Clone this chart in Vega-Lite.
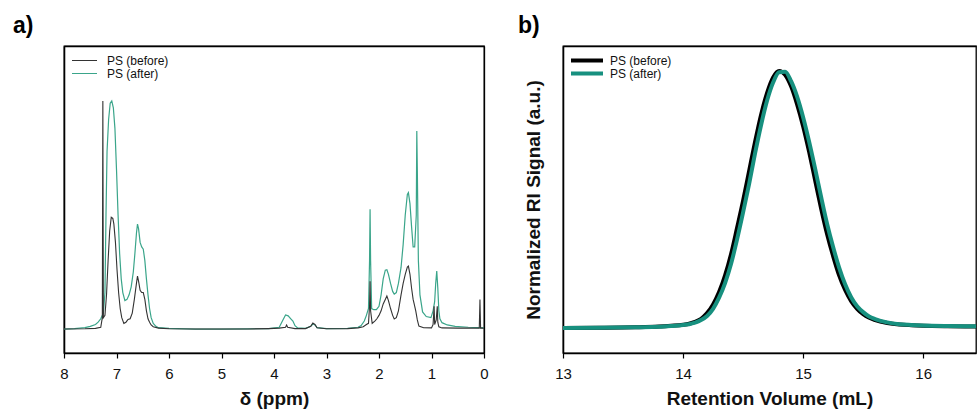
{
  "$schema": "https://vega.github.io/schema/vega-lite/v6.json",
  "padding": {"left": 12, "top": 14, "right": 2, "bottom": 0},
  "spacing": 28,
  "config": {
    "font": "Liberation Sans",
    "view": {"stroke": "#000", "strokeWidth": 1.3},
    "axis": {"domainColor": "#000", "domainWidth": 1.3, "tickColor": "#000", "tickWidth": 1.2, "labelColor": "#111", "labelFontSize": 15, "titleFontWeight": "bold", "titleFontSize": 19, "titleColor": "#111", "labelFlush": false}
  },
  "datasets": {
    "nmr": [
      {"ppm": 8.0, "intensity": 0.0, "series": "PS (after)"},
      {"ppm": 7.8, "intensity": 0.002, "series": "PS (after)"},
      {"ppm": 7.6, "intensity": 0.006, "series": "PS (after)"},
      {"ppm": 7.5, "intensity": 0.012, "series": "PS (after)"},
      {"ppm": 7.4, "intensity": 0.02, "series": "PS (after)"},
      {"ppm": 7.35, "intensity": 0.03, "series": "PS (after)"},
      {"ppm": 7.3, "intensity": 0.045, "series": "PS (after)"},
      {"ppm": 7.25, "intensity": 0.07, "series": "PS (after)"},
      {"ppm": 7.22, "intensity": 0.16, "series": "PS (after)"},
      {"ppm": 7.2, "intensity": 0.5, "series": "PS (after)"},
      {"ppm": 7.18, "intensity": 0.78, "series": "PS (after)"},
      {"ppm": 7.15, "intensity": 0.92, "series": "PS (after)"},
      {"ppm": 7.12, "intensity": 0.99, "series": "PS (after)"},
      {"ppm": 7.09, "intensity": 1.0, "series": "PS (after)"},
      {"ppm": 7.06, "intensity": 0.97, "series": "PS (after)"},
      {"ppm": 7.03, "intensity": 0.88, "series": "PS (after)"},
      {"ppm": 7.0, "intensity": 0.7, "series": "PS (after)"},
      {"ppm": 6.97, "intensity": 0.5, "series": "PS (after)"},
      {"ppm": 6.94, "intensity": 0.33, "series": "PS (after)"},
      {"ppm": 6.91, "intensity": 0.22, "series": "PS (after)"},
      {"ppm": 6.88, "intensity": 0.16, "series": "PS (after)"},
      {"ppm": 6.84, "intensity": 0.125, "series": "PS (after)"},
      {"ppm": 6.8, "intensity": 0.13, "series": "PS (after)"},
      {"ppm": 6.76, "intensity": 0.15, "series": "PS (after)"},
      {"ppm": 6.72, "intensity": 0.185, "series": "PS (after)"},
      {"ppm": 6.68, "intensity": 0.25, "series": "PS (after)"},
      {"ppm": 6.65, "intensity": 0.33, "series": "PS (after)"},
      {"ppm": 6.62, "intensity": 0.42, "series": "PS (after)"},
      {"ppm": 6.6, "intensity": 0.46, "series": "PS (after)"},
      {"ppm": 6.58, "intensity": 0.44, "series": "PS (after)"},
      {"ppm": 6.55, "intensity": 0.38, "series": "PS (after)"},
      {"ppm": 6.52, "intensity": 0.36, "series": "PS (after)"},
      {"ppm": 6.49, "intensity": 0.35, "series": "PS (after)"},
      {"ppm": 6.46, "intensity": 0.3, "series": "PS (after)"},
      {"ppm": 6.43, "intensity": 0.22, "series": "PS (after)"},
      {"ppm": 6.4, "intensity": 0.15, "series": "PS (after)"},
      {"ppm": 6.37, "intensity": 0.09, "series": "PS (after)"},
      {"ppm": 6.34, "intensity": 0.05, "series": "PS (after)"},
      {"ppm": 6.3, "intensity": 0.025, "series": "PS (after)"},
      {"ppm": 6.25, "intensity": 0.012, "series": "PS (after)"},
      {"ppm": 6.2, "intensity": 0.006, "series": "PS (after)"},
      {"ppm": 6.0, "intensity": 0.003, "series": "PS (after)"},
      {"ppm": 5.5, "intensity": 0.0, "series": "PS (after)"},
      {"ppm": 5.0, "intensity": 0.0, "series": "PS (after)"},
      {"ppm": 4.5, "intensity": 0.001, "series": "PS (after)"},
      {"ppm": 4.1, "intensity": 0.002, "series": "PS (after)"},
      {"ppm": 3.9, "intensity": 0.008, "series": "PS (after)"},
      {"ppm": 3.83, "intensity": 0.04, "series": "PS (after)"},
      {"ppm": 3.78, "intensity": 0.062, "series": "PS (after)"},
      {"ppm": 3.73, "intensity": 0.058, "series": "PS (after)"},
      {"ppm": 3.68, "intensity": 0.045, "series": "PS (after)"},
      {"ppm": 3.64, "intensity": 0.035, "series": "PS (after)"},
      {"ppm": 3.6, "intensity": 0.015, "series": "PS (after)"},
      {"ppm": 3.55, "intensity": 0.005, "series": "PS (after)"},
      {"ppm": 3.4, "intensity": 0.003, "series": "PS (after)"},
      {"ppm": 3.3, "intensity": 0.012, "series": "PS (after)"},
      {"ppm": 3.26, "intensity": 0.022, "series": "PS (after)"},
      {"ppm": 3.22, "intensity": 0.018, "series": "PS (after)"},
      {"ppm": 3.18, "intensity": 0.006, "series": "PS (after)"},
      {"ppm": 3.0, "intensity": 0.002, "series": "PS (after)"},
      {"ppm": 2.6, "intensity": 0.003, "series": "PS (after)"},
      {"ppm": 2.4, "intensity": 0.008, "series": "PS (after)"},
      {"ppm": 2.34, "intensity": 0.015, "series": "PS (after)"},
      {"ppm": 2.28, "intensity": 0.035, "series": "PS (after)"},
      {"ppm": 2.24, "intensity": 0.06, "series": "PS (after)"},
      {"ppm": 2.2, "intensity": 0.09, "series": "PS (after)"},
      {"ppm": 2.18, "intensity": 0.3, "series": "PS (after)"},
      {"ppm": 2.17, "intensity": 0.525, "series": "PS (after)"},
      {"ppm": 2.16, "intensity": 0.3, "series": "PS (after)"},
      {"ppm": 2.14, "intensity": 0.09, "series": "PS (after)"},
      {"ppm": 2.1, "intensity": 0.085, "series": "PS (after)"},
      {"ppm": 2.05, "intensity": 0.085, "series": "PS (after)"},
      {"ppm": 2.0, "intensity": 0.1, "series": "PS (after)"},
      {"ppm": 1.96, "intensity": 0.15, "series": "PS (after)"},
      {"ppm": 1.92, "intensity": 0.22, "series": "PS (after)"},
      {"ppm": 1.88, "intensity": 0.258, "series": "PS (after)"},
      {"ppm": 1.85, "intensity": 0.26, "series": "PS (after)"},
      {"ppm": 1.82, "intensity": 0.24, "series": "PS (after)"},
      {"ppm": 1.78, "intensity": 0.2, "series": "PS (after)"},
      {"ppm": 1.74, "intensity": 0.165, "series": "PS (after)"},
      {"ppm": 1.71, "intensity": 0.153, "series": "PS (after)"},
      {"ppm": 1.67, "intensity": 0.16, "series": "PS (after)"},
      {"ppm": 1.63, "intensity": 0.2, "series": "PS (after)"},
      {"ppm": 1.58, "intensity": 0.27, "series": "PS (after)"},
      {"ppm": 1.54, "intensity": 0.37, "series": "PS (after)"},
      {"ppm": 1.5, "intensity": 0.5, "series": "PS (after)"},
      {"ppm": 1.46, "intensity": 0.59, "series": "PS (after)"},
      {"ppm": 1.44, "intensity": 0.598, "series": "PS (after)"},
      {"ppm": 1.41, "intensity": 0.55, "series": "PS (after)"},
      {"ppm": 1.38, "intensity": 0.45, "series": "PS (after)"},
      {"ppm": 1.35, "intensity": 0.36, "series": "PS (after)"},
      {"ppm": 1.32, "intensity": 0.36, "series": "PS (after)"},
      {"ppm": 1.29, "intensity": 0.5, "series": "PS (after)"},
      {"ppm": 1.28, "intensity": 0.868, "series": "PS (after)"},
      {"ppm": 1.27, "intensity": 0.7, "series": "PS (after)"},
      {"ppm": 1.25, "intensity": 0.3, "series": "PS (after)"},
      {"ppm": 1.22, "intensity": 0.15, "series": "PS (after)"},
      {"ppm": 1.17, "intensity": 0.075, "series": "PS (after)"},
      {"ppm": 1.1, "intensity": 0.055, "series": "PS (after)"},
      {"ppm": 1.01, "intensity": 0.05, "series": "PS (after)"},
      {"ppm": 0.97, "intensity": 0.08, "series": "PS (after)"},
      {"ppm": 0.94, "intensity": 0.12, "series": "PS (after)"},
      {"ppm": 0.92, "intensity": 0.2, "series": "PS (after)"},
      {"ppm": 0.9, "intensity": 0.254, "series": "PS (after)"},
      {"ppm": 0.88, "intensity": 0.18, "series": "PS (after)"},
      {"ppm": 0.86, "intensity": 0.08, "series": "PS (after)"},
      {"ppm": 0.84, "intensity": 0.045, "series": "PS (after)"},
      {"ppm": 0.8, "intensity": 0.028, "series": "PS (after)"},
      {"ppm": 0.7, "intensity": 0.018, "series": "PS (after)"},
      {"ppm": 0.55, "intensity": 0.012, "series": "PS (after)"},
      {"ppm": 0.3, "intensity": 0.008, "series": "PS (after)"},
      {"ppm": 0.1, "intensity": 0.006, "series": "PS (after)"},
      {"ppm": 0.0, "intensity": 0.005, "series": "PS (after)"},
      {"ppm": 8.0, "intensity": 0.0, "series": "PS (before)"},
      {"ppm": 7.6, "intensity": 0.001, "series": "PS (before)"},
      {"ppm": 7.4, "intensity": 0.003, "series": "PS (before)"},
      {"ppm": 7.3, "intensity": 0.008, "series": "PS (before)"},
      {"ppm": 7.27, "intensity": 0.05, "series": "PS (before)"},
      {"ppm": 7.26, "intensity": 1.0, "series": "PS (before)"},
      {"ppm": 7.25, "intensity": 0.05, "series": "PS (before)"},
      {"ppm": 7.22, "intensity": 0.06, "series": "PS (before)"},
      {"ppm": 7.19, "intensity": 0.15, "series": "PS (before)"},
      {"ppm": 7.16, "intensity": 0.3, "series": "PS (before)"},
      {"ppm": 7.13, "intensity": 0.43, "series": "PS (before)"},
      {"ppm": 7.1, "intensity": 0.49, "series": "PS (before)"},
      {"ppm": 7.07, "intensity": 0.485, "series": "PS (before)"},
      {"ppm": 7.05, "intensity": 0.46, "series": "PS (before)"},
      {"ppm": 7.02, "intensity": 0.38, "series": "PS (before)"},
      {"ppm": 6.99, "intensity": 0.26, "series": "PS (before)"},
      {"ppm": 6.96, "intensity": 0.16, "series": "PS (before)"},
      {"ppm": 6.93, "intensity": 0.09, "series": "PS (before)"},
      {"ppm": 6.9, "intensity": 0.05, "series": "PS (before)"},
      {"ppm": 6.86, "intensity": 0.025, "series": "PS (before)"},
      {"ppm": 6.82, "intensity": 0.03, "series": "PS (before)"},
      {"ppm": 6.78, "intensity": 0.042, "series": "PS (before)"},
      {"ppm": 6.74, "intensity": 0.045, "series": "PS (before)"},
      {"ppm": 6.7, "intensity": 0.07, "series": "PS (before)"},
      {"ppm": 6.66, "intensity": 0.13, "series": "PS (before)"},
      {"ppm": 6.62, "intensity": 0.2, "series": "PS (before)"},
      {"ppm": 6.6, "intensity": 0.232, "series": "PS (before)"},
      {"ppm": 6.58, "intensity": 0.21, "series": "PS (before)"},
      {"ppm": 6.55, "intensity": 0.17, "series": "PS (before)"},
      {"ppm": 6.52, "intensity": 0.16, "series": "PS (before)"},
      {"ppm": 6.49, "intensity": 0.16, "series": "PS (before)"},
      {"ppm": 6.46, "intensity": 0.13, "series": "PS (before)"},
      {"ppm": 6.43, "intensity": 0.08, "series": "PS (before)"},
      {"ppm": 6.4, "intensity": 0.045, "series": "PS (before)"},
      {"ppm": 6.37, "intensity": 0.03, "series": "PS (before)"},
      {"ppm": 6.34, "intensity": 0.018, "series": "PS (before)"},
      {"ppm": 6.3, "intensity": 0.01, "series": "PS (before)"},
      {"ppm": 6.2, "intensity": 0.004, "series": "PS (before)"},
      {"ppm": 6.0, "intensity": 0.001, "series": "PS (before)"},
      {"ppm": 5.5, "intensity": 0.0, "series": "PS (before)"},
      {"ppm": 4.5, "intensity": 0.0, "series": "PS (before)"},
      {"ppm": 4.1, "intensity": 0.002, "series": "PS (before)"},
      {"ppm": 3.9, "intensity": 0.004, "series": "PS (before)"},
      {"ppm": 3.78, "intensity": 0.008, "series": "PS (before)"},
      {"ppm": 3.76, "intensity": 0.018, "series": "PS (before)"},
      {"ppm": 3.74, "intensity": 0.008, "series": "PS (before)"},
      {"ppm": 3.6, "intensity": 0.002, "series": "PS (before)"},
      {"ppm": 3.4, "intensity": 0.002, "series": "PS (before)"},
      {"ppm": 3.3, "intensity": 0.012, "series": "PS (before)"},
      {"ppm": 3.26, "intensity": 0.026, "series": "PS (before)"},
      {"ppm": 3.22, "intensity": 0.02, "series": "PS (before)"},
      {"ppm": 3.18, "intensity": 0.006, "series": "PS (before)"},
      {"ppm": 3.0, "intensity": 0.001, "series": "PS (before)"},
      {"ppm": 2.6, "intensity": 0.002, "series": "PS (before)"},
      {"ppm": 2.4, "intensity": 0.005, "series": "PS (before)"},
      {"ppm": 2.3, "intensity": 0.01, "series": "PS (before)"},
      {"ppm": 2.24, "intensity": 0.02, "series": "PS (before)"},
      {"ppm": 2.2, "intensity": 0.025, "series": "PS (before)"},
      {"ppm": 2.18, "intensity": 0.1, "series": "PS (before)"},
      {"ppm": 2.17, "intensity": 0.21, "series": "PS (before)"},
      {"ppm": 2.16, "intensity": 0.08, "series": "PS (before)"},
      {"ppm": 2.13, "intensity": 0.025, "series": "PS (before)"},
      {"ppm": 2.08, "intensity": 0.035, "series": "PS (before)"},
      {"ppm": 2.04, "intensity": 0.045, "series": "PS (before)"},
      {"ppm": 2.0, "intensity": 0.06, "series": "PS (before)"},
      {"ppm": 1.96, "intensity": 0.08, "series": "PS (before)"},
      {"ppm": 1.92, "intensity": 0.11, "series": "PS (before)"},
      {"ppm": 1.88, "intensity": 0.13, "series": "PS (before)"},
      {"ppm": 1.85, "intensity": 0.145, "series": "PS (before)"},
      {"ppm": 1.82, "intensity": 0.125, "series": "PS (before)"},
      {"ppm": 1.78, "intensity": 0.09, "series": "PS (before)"},
      {"ppm": 1.74, "intensity": 0.06, "series": "PS (before)"},
      {"ppm": 1.71, "intensity": 0.044, "series": "PS (before)"},
      {"ppm": 1.67, "intensity": 0.05, "series": "PS (before)"},
      {"ppm": 1.63, "intensity": 0.08, "series": "PS (before)"},
      {"ppm": 1.58, "intensity": 0.15, "series": "PS (before)"},
      {"ppm": 1.54, "intensity": 0.2, "series": "PS (before)"},
      {"ppm": 1.5, "intensity": 0.24, "series": "PS (before)"},
      {"ppm": 1.46, "intensity": 0.272, "series": "PS (before)"},
      {"ppm": 1.44, "intensity": 0.276, "series": "PS (before)"},
      {"ppm": 1.41, "intensity": 0.24, "series": "PS (before)"},
      {"ppm": 1.38, "intensity": 0.18, "series": "PS (before)"},
      {"ppm": 1.35, "intensity": 0.13, "series": "PS (before)"},
      {"ppm": 1.33, "intensity": 0.11, "series": "PS (before)"},
      {"ppm": 1.3, "intensity": 0.08, "series": "PS (before)"},
      {"ppm": 1.27, "intensity": 0.04, "series": "PS (before)"},
      {"ppm": 1.24, "intensity": 0.013, "series": "PS (before)"},
      {"ppm": 1.15, "intensity": 0.006, "series": "PS (before)"},
      {"ppm": 1.0, "intensity": 0.005, "series": "PS (before)"},
      {"ppm": 0.97, "intensity": 0.02, "series": "PS (before)"},
      {"ppm": 0.95, "intensity": 0.1, "series": "PS (before)"},
      {"ppm": 0.94, "intensity": 0.02, "series": "PS (before)"},
      {"ppm": 0.91, "intensity": 0.04, "series": "PS (before)"},
      {"ppm": 0.89, "intensity": 0.1, "series": "PS (before)"},
      {"ppm": 0.88, "intensity": 0.03, "series": "PS (before)"},
      {"ppm": 0.86, "intensity": 0.01, "series": "PS (before)"},
      {"ppm": 0.8, "intensity": 0.005, "series": "PS (before)"},
      {"ppm": 0.5, "intensity": 0.004, "series": "PS (before)"},
      {"ppm": 0.09, "intensity": 0.004, "series": "PS (before)"},
      {"ppm": 0.077, "intensity": 0.13, "series": "PS (before)"},
      {"ppm": 0.065, "intensity": 0.004, "series": "PS (before)"},
      {"ppm": 0.0, "intensity": 0.004, "series": "PS (before)"}
    ],
    "gpc": [
      {"vol": 13.0, "signal": 0.0, "series": "PS (before)"},
      {"vol": 13.3, "signal": 0.001, "series": "PS (before)"},
      {"vol": 13.6, "signal": 0.003, "series": "PS (before)"},
      {"vol": 13.8, "signal": 0.006, "series": "PS (before)"},
      {"vol": 13.9, "signal": 0.009, "series": "PS (before)"},
      {"vol": 14.0, "signal": 0.013, "series": "PS (before)"},
      {"vol": 14.05, "signal": 0.017, "series": "PS (before)"},
      {"vol": 14.1, "signal": 0.024, "series": "PS (before)"},
      {"vol": 14.15, "signal": 0.036, "series": "PS (before)"},
      {"vol": 14.2, "signal": 0.058, "series": "PS (before)"},
      {"vol": 14.25, "signal": 0.092, "series": "PS (before)"},
      {"vol": 14.3, "signal": 0.14, "series": "PS (before)"},
      {"vol": 14.35, "signal": 0.205, "series": "PS (before)"},
      {"vol": 14.4, "signal": 0.288, "series": "PS (before)"},
      {"vol": 14.45, "signal": 0.39, "series": "PS (before)"},
      {"vol": 14.5, "signal": 0.495, "series": "PS (before)"},
      {"vol": 14.55, "signal": 0.61, "series": "PS (before)"},
      {"vol": 14.6, "signal": 0.725, "series": "PS (before)"},
      {"vol": 14.65, "signal": 0.83, "series": "PS (before)"},
      {"vol": 14.7, "signal": 0.915, "series": "PS (before)"},
      {"vol": 14.75, "signal": 0.975, "series": "PS (before)"},
      {"vol": 14.8, "signal": 1.0, "series": "PS (before)"},
      {"vol": 14.85, "signal": 0.985, "series": "PS (before)"},
      {"vol": 14.9, "signal": 0.94, "series": "PS (before)"},
      {"vol": 14.95, "signal": 0.87, "series": "PS (before)"},
      {"vol": 15.0, "signal": 0.785, "series": "PS (before)"},
      {"vol": 15.05, "signal": 0.685, "series": "PS (before)"},
      {"vol": 15.1, "signal": 0.575, "series": "PS (before)"},
      {"vol": 15.15, "signal": 0.465, "series": "PS (before)"},
      {"vol": 15.2, "signal": 0.365, "series": "PS (before)"},
      {"vol": 15.25, "signal": 0.28, "series": "PS (before)"},
      {"vol": 15.3, "signal": 0.205, "series": "PS (before)"},
      {"vol": 15.35, "signal": 0.148, "series": "PS (before)"},
      {"vol": 15.4, "signal": 0.105, "series": "PS (before)"},
      {"vol": 15.45, "signal": 0.075, "series": "PS (before)"},
      {"vol": 15.5, "signal": 0.054, "series": "PS (before)"},
      {"vol": 15.55, "signal": 0.04, "series": "PS (before)"},
      {"vol": 15.6, "signal": 0.031, "series": "PS (before)"},
      {"vol": 15.7, "signal": 0.02, "series": "PS (before)"},
      {"vol": 15.8, "signal": 0.014, "series": "PS (before)"},
      {"vol": 15.9, "signal": 0.011, "series": "PS (before)"},
      {"vol": 16.0, "signal": 0.009, "series": "PS (before)"},
      {"vol": 16.2, "signal": 0.007, "series": "PS (before)"},
      {"vol": 16.44, "signal": 0.006, "series": "PS (before)"},
      {"vol": 13.0, "signal": 0.0, "series": "PS (after)"},
      {"vol": 13.3, "signal": 0.001, "series": "PS (after)"},
      {"vol": 13.6, "signal": 0.003, "series": "PS (after)"},
      {"vol": 13.8, "signal": 0.005, "series": "PS (after)"},
      {"vol": 13.9, "signal": 0.008, "series": "PS (after)"},
      {"vol": 14.0, "signal": 0.012, "series": "PS (after)"},
      {"vol": 14.05, "signal": 0.015, "series": "PS (after)"},
      {"vol": 14.1, "signal": 0.021, "series": "PS (after)"},
      {"vol": 14.15, "signal": 0.031, "series": "PS (after)"},
      {"vol": 14.2, "signal": 0.047, "series": "PS (after)"},
      {"vol": 14.25, "signal": 0.075, "series": "PS (after)"},
      {"vol": 14.3, "signal": 0.118, "series": "PS (after)"},
      {"vol": 14.35, "signal": 0.175, "series": "PS (after)"},
      {"vol": 14.4, "signal": 0.25, "series": "PS (after)"},
      {"vol": 14.45, "signal": 0.345, "series": "PS (after)"},
      {"vol": 14.5, "signal": 0.45, "series": "PS (after)"},
      {"vol": 14.55, "signal": 0.56, "series": "PS (after)"},
      {"vol": 14.6, "signal": 0.68, "series": "PS (after)"},
      {"vol": 14.65, "signal": 0.79, "series": "PS (after)"},
      {"vol": 14.7, "signal": 0.885, "series": "PS (after)"},
      {"vol": 14.75, "signal": 0.955, "series": "PS (after)"},
      {"vol": 14.8, "signal": 0.995, "series": "PS (after)"},
      {"vol": 14.85, "signal": 0.997, "series": "PS (after)"},
      {"vol": 14.9, "signal": 0.96, "series": "PS (after)"},
      {"vol": 14.95, "signal": 0.9, "series": "PS (after)"},
      {"vol": 15.0, "signal": 0.82, "series": "PS (after)"},
      {"vol": 15.05, "signal": 0.725, "series": "PS (after)"},
      {"vol": 15.1, "signal": 0.62, "series": "PS (after)"},
      {"vol": 15.15, "signal": 0.51, "series": "PS (after)"},
      {"vol": 15.2, "signal": 0.405, "series": "PS (after)"},
      {"vol": 15.25, "signal": 0.315, "series": "PS (after)"},
      {"vol": 15.3, "signal": 0.235, "series": "PS (after)"},
      {"vol": 15.35, "signal": 0.17, "series": "PS (after)"},
      {"vol": 15.4, "signal": 0.12, "series": "PS (after)"},
      {"vol": 15.45, "signal": 0.085, "series": "PS (after)"},
      {"vol": 15.5, "signal": 0.062, "series": "PS (after)"},
      {"vol": 15.55, "signal": 0.045, "series": "PS (after)"},
      {"vol": 15.6, "signal": 0.035, "series": "PS (after)"},
      {"vol": 15.7, "signal": 0.022, "series": "PS (after)"},
      {"vol": 15.8, "signal": 0.015, "series": "PS (after)"},
      {"vol": 15.9, "signal": 0.012, "series": "PS (after)"},
      {"vol": 16.0, "signal": 0.01, "series": "PS (after)"},
      {"vol": 16.2, "signal": 0.008, "series": "PS (after)"},
      {"vol": 16.44, "signal": 0.007, "series": "PS (after)"}
    ]
  },
  "resolve": {"scale": {"color": "independent"}, "legend": {"color": "independent"}},
  "hconcat": [
    {
      "width": 420,
      "height": 307,
      "title": {"text": "a)", "anchor": "start", "frame": "group", "dx": -51, "fontSize": 23, "fontWeight": "bold", "offset": 8},
      "data": {"name": "nmr"},
      "encoding": {
        "x": {"field": "ppm", "type": "quantitative", "scale": {"domain": [0, 8], "reverse": true, "nice": false, "zero": false},
          "axis": {"title": "δ (ppm)", "format": "d", "values": [0, 0.5, 1, 1.5, 2, 2.5, 3, 3.5, 4, 4.5, 5, 5.5, 6, 6.5, 7, 7.5, 8], "labelExpr": "datum.value % 1 === 0 ? datum.label : ''", "tickSize": {"condition": {"test": "datum.value % 1 !== 0", "value": 3}, "value": 5}, "labelPadding": 8, "titlePadding": 8,
            "grid": true, "gridColor": "#000", "gridWidth": 1.3, "gridOpacity": {"condition": {"test": "datum.value === 0 || datum.value === 8", "value": 1}, "value": 0}}},
        "y": {"field": "intensity", "type": "quantitative", "scale": {"domain": [-0.105, 1.241], "nice": false, "zero": false},
          "axis": {"labels": false, "ticks": false, "title": null, "values": [1.241], "grid": true, "gridColor": "#000", "gridWidth": 1.3, "gridOpacity": 1}},
        "color": {"field": "series", "type": "nominal", "scale": {"domain": ["PS (before)", "PS (after)"], "range": ["#333333", "#3aa58a"]},
          "legend": {"orient": "none", "legendX": 7, "legendY": 8, "padding": 0, "title": null, "symbolType": "stroke", "symbolSize": 625, "symbolStrokeWidth": 1.2, "labelFontSize": 12, "labelOffset": 9, "clipHeight": 13, "rowPadding": 0, "labelColor": "#111"}}
      },
      "layer": [
        {"transform": [{"filter": "datum.series === 'PS (after)'"}], "mark": {"type": "line", "strokeWidth": 1.2}},
        {"transform": [{"filter": "datum.series === 'PS (before)'"}], "mark": {"type": "line", "strokeWidth": 1.1}}
      ]
    },
    {
      "width": 413,
      "height": 307,
      "title": {"text": "b)", "anchor": "start", "frame": "group", "dx": -45, "fontSize": 23, "fontWeight": "bold", "offset": 8},
      "data": {"name": "gpc"},
      "encoding": {
        "x": {"field": "vol", "type": "quantitative", "scale": {"domain": [13, 16.44], "nice": false, "zero": false},
          "axis": {"title": "Retention Volume (mL)", "format": "d", "values": [13, 13.5, 14, 14.5, 15, 15.5, 16, 16.44], "labelExpr": "datum.value % 1 === 0 ? datum.label : ''", "tickSize": {"condition": {"test": "datum.value % 1 !== 0", "value": 3}, "value": 5}, "tickOpacity": {"condition": {"test": "datum.value > 16.4", "value": 0}, "value": 1}, "labelPadding": 8, "titlePadding": 8,
            "grid": true, "gridColor": "#000", "gridWidth": 1.3, "gridOpacity": {"condition": {"test": "datum.value === 13 || datum.value > 16.4", "value": 1}, "value": 0}}},
        "y": {"field": "signal", "type": "quantitative", "scale": {"domain": [-0.097, 1.097], "nice": false, "zero": false},
          "axis": {"labels": false, "ticks": false, "title": "Normalized RI Signal (a.u.)", "titlePadding": 20, "values": [1.097], "grid": true, "gridColor": "#000", "gridWidth": 1.3, "gridOpacity": 1}},
        "color": {"field": "series", "type": "nominal", "scale": {"domain": ["PS (before)", "PS (after)"], "range": ["#000000", "#17907f"]},
          "legend": {"orient": "none", "legendX": 6, "legendY": 8, "padding": 0, "title": null, "symbolType": "stroke", "symbolSize": 1024, "symbolStrokeWidth": 4, "labelFontSize": 12, "labelOffset": 5, "clipHeight": 13, "rowPadding": 0, "labelColor": "#111"}}
      },
      "layer": [
        {"transform": [{"filter": "datum.series === 'PS (before)'"}], "mark": {"type": "line", "strokeWidth": 4, "interpolate": "monotone"}},
        {"transform": [{"filter": "datum.series === 'PS (after)'"}], "mark": {"type": "line", "strokeWidth": 4, "interpolate": "monotone"}}
      ]
    }
  ]
}
